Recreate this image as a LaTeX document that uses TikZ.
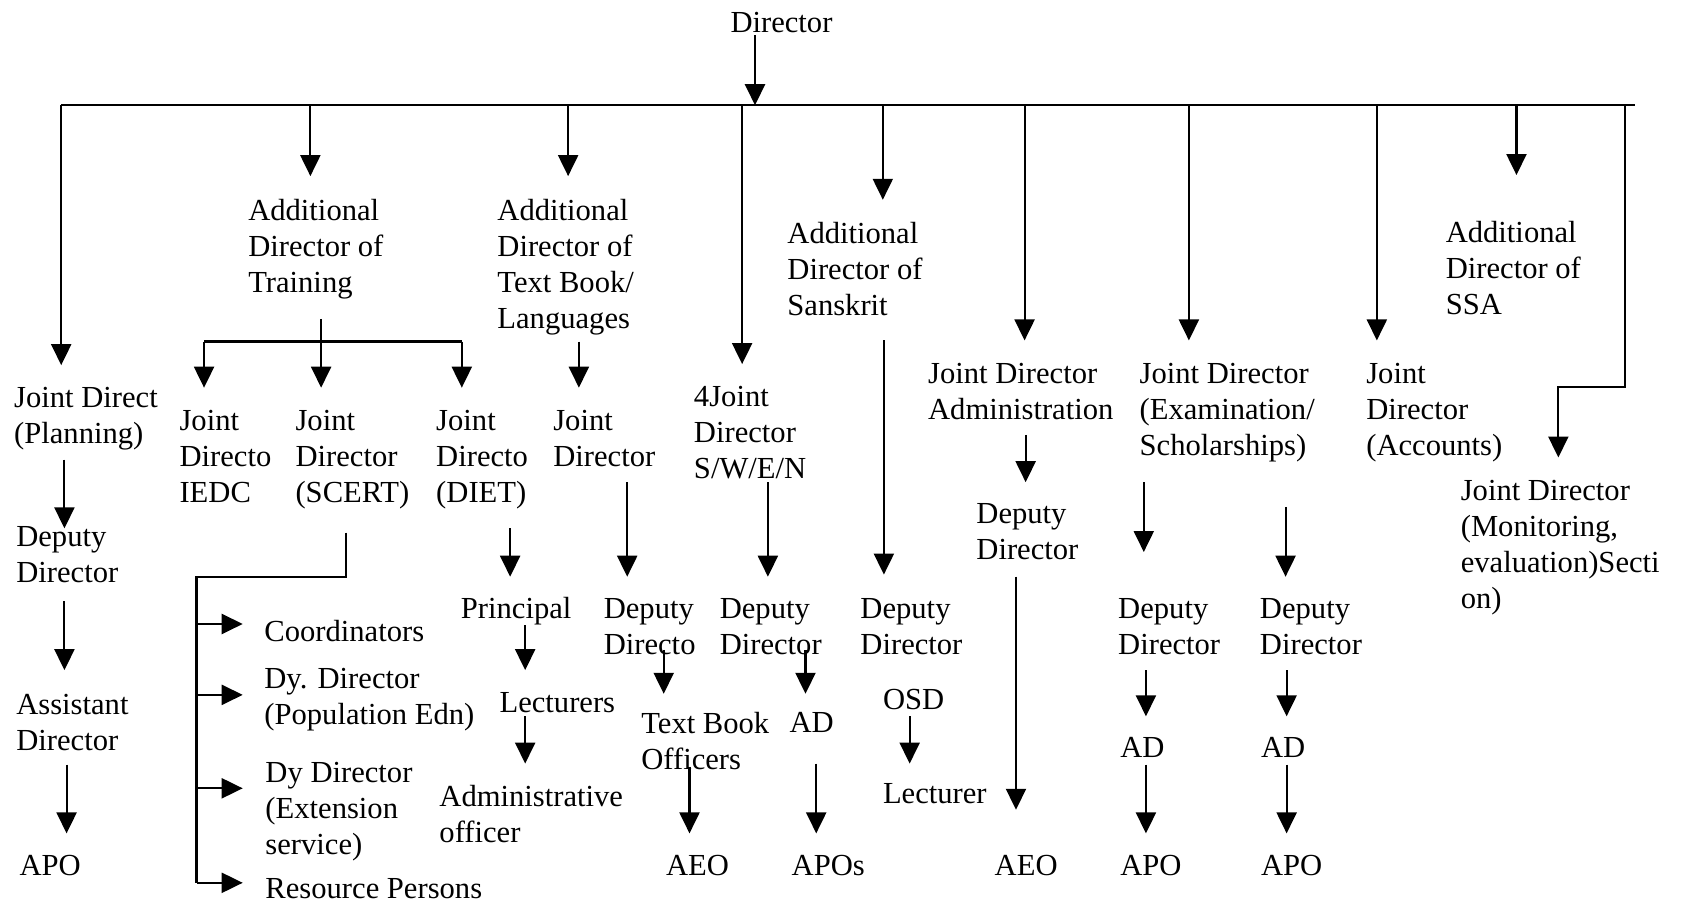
\documentclass[tikz,border=0pt]{standalone}
\usepackage{fontspec}
\setmainfont{Liberation Serif}
\usetikzlibrary{arrows.meta}
\begin{document}
\begin{tikzpicture}[x=1.074pt,y=-1.074pt,
  lbl/.style={anchor=north west,inner sep=0pt,align=left,
              font=\fontsize{30.6}{36}\selectfont},
  conn/.style={line width=2.1pt},
  arr/.style={conn,-{Triangle[width=20pt,length=21pt]}}]
\useasboundingbox (0,0) rectangle (1568,843);

% ---------- labels ----------
\node[lbl] (dir)     at (680,11)  {Director};
\node[lbl] (adTrain) at (231,185) {Additional\\Director of\\Training};
\node[lbl] (adText)  at (463,185) {Additional\\Director of\\Text Book/\\Languages};
\node[lbl] (adSans)  at (733,207) {Additional\\Director of\\Sanskrit};
\node[lbl] (adSSA)   at (1346,206){Additional\\Director of\\SSA};

\node[lbl] (jdPlan)  at (13,360)  {Joint Direct\\(Planning)};
\node[lbl] (jdIEDC)  at (167,382) {Joint\\Directo\\IEDC};
\node[lbl] (jdSCERT) at (275,382) {Joint\\Director\\(SCERT)};
\node[lbl] (jdDIET)  at (406,382) {Joint\\Directo\\(DIET)};
\node[lbl] (jdText)  at (515,382) {Joint\\Director};
\node[lbl] (jdFour)  at (646,359) {4Joint\\Director\\S/W/E/N};
\node[lbl] (jdAdm)   at (864,338) {Joint Director\\Administration};
\node[lbl] (jdExam)  at (1061,338){Joint Director\\(Examination/\\Scholarships)};
\node[lbl] (jdAcc)   at (1272,338){Joint\\Director\\(Accounts)};
\node[lbl] (jdMon)   at (1360,447){Joint Director\\(Monitoring,\\evaluation)Secti\\on)};

\node[lbl] (ddPlan)  at (15,490)  {Deputy\\Director};
\node[lbl] (asPlan)  at (15,646)  {Assistant\\Director};
\node[lbl] (apoPlan) at (18,796)  {APO};

\node[lbl] (coord)   at (246,577) {Coordinators};
\node[lbl] (dyPop)   at (246,622) {Dy. Director\\(Population Edn)};
\node[lbl] (dyExt)   at (247,710) {Dy Director\\(Extension\\service)};
\node[lbl] (resP)    at (247,818) {Resource Persons};

\node[lbl] (princ)   at (429,556) {Principal};
\node[lbl] (lectu)   at (465,645) {Lecturers};
\node[lbl] (admOff)  at (409,731) {Administrative\\officer};

\node[lbl] (ddText)  at (562,557) {Deputy\\Directo};
\node[lbl] (tbo)     at (597,663) {Text Book\\Officers};
\node[lbl] (aeoText) at (620,796) {AEO};

\node[lbl] (ddFour)  at (670,557) {Deputy\\Director};
\node[lbl] (adFour)  at (735,663) {AD};
\node[lbl] (apoFour) at (737,796) {APOs};

\node[lbl] (ddSans)  at (801,557) {Deputy\\Director};
\node[lbl] (osd)     at (822,642) {OSD};
\node[lbl] (lect)    at (822,729) {Lecturer};

\node[lbl] (ddAdm)   at (909,469) {Deputy\\Director};
\node[lbl] (aeoAdm)  at (926,796) {AEO};

\node[lbl] (ddExam)  at (1041,557){Deputy\\Director};
\node[lbl] (adExam)  at (1043,686){AD};
\node[lbl] (apoExam) at (1043,796){APO};

\node[lbl] (ddAcc)   at (1173,557){Deputy\\Director};
\node[lbl] (adAcc)   at (1174,686){AD};
\node[lbl] (apoAcc)  at (1174,796){APO};

% ---------- connector end points ----------
\coordinate (busL)   at (57,98);
\coordinate (busR)   at (1522,98);
\coordinate (dirOut) at (703,33);
\coordinate (tDir)   at (703,98);
\coordinate (tTrain) at (289,98);
\coordinate (tText)  at (529,98);
\coordinate (tFour)  at (691,98);
\coordinate (tSans)  at (822,98);
\coordinate (tAdm)   at (954,98);
\coordinate (tExam)  at (1107,98);
\coordinate (tAcc)   at (1282,98);
\coordinate (tSSA)   at (1412,98);
\coordinate (tMon)   at (1513,98);
\coordinate (monA)   at (1513,360);
\coordinate (monB)   at (1451,360);

\coordinate (trTop)  at (299,297);
\coordinate (trL)    at (190,318);
\coordinate (trR)    at (430,318);

\coordinate (scTop)  at (322,496);
\coordinate (scMid)  at (322,537);
\coordinate (scCor)  at (183,537);
\coordinate (sc1)    at (183,581);
\coordinate (sc2)    at (183,647);
\coordinate (sc3)    at (183,734);
\coordinate (sc4)    at (183,822);

% ---------- director and main bus ----------
\draw[arr] (dirOut) -- (tDir);
\draw[conn] (busL) -- (busR);
\draw[arr] (busL)   -- ++(0,242);
\draw[arr] (tTrain) -- ++(0,66);
\draw[arr] (tText)  -- ++(0,66);
\draw[arr] (tFour)  -- ++(0,241);
\draw[arr] (tSans)  -- ++(0,88);
\draw[arr] (tAdm)   -- ++(0,219);
\draw[arr] (tExam)  -- ++(0,219);
\draw[arr] (tAcc)   -- ++(0,219);
\draw[arr] (tSSA)   -- ++(0,65);
\draw[arr] (tMon) -- (monA) -- (monB) -- ++(0,66);

% ---------- training ----------
\draw[arr] (trTop) -- ++(0,64);
\draw[conn] (trL) -- (trR);
\draw[arr] (trL) -- ++(0,43);
\draw[arr] (trR) -- ++(0,43);
\draw[conn] (scTop) -- (scMid) -- (scCor) -- (sc4);
\foreach \p in {sc1,sc2,sc3,sc4} \draw[arr] (\p) -- ++(43,0);

% ---------- planning column ----------
\draw[arr] (60,428) coordinate (p1) -- (60,492);
\draw[arr] (60,560) coordinate (p2) -- (60,624);
\draw[arr] (62,712) coordinate (p3) -- (62,776);

% ---------- DIET column ----------
\draw[arr] (475,492) coordinate (d1) -- (475,537);
\draw[arr] (489,582) coordinate (d2) -- (489,624);
\draw[arr] (489,667) coordinate (d3) -- (489,711);

% ---------- text book column ----------
\draw[arr] (539,318) coordinate (tb0) -- (539,361);
\draw[arr] (584,449) coordinate (tb1) -- (584,537);
\draw[arr] (618,605) coordinate (tb2) -- (618,646);
\draw[arr] (642,714) coordinate (tb3) -- (642,776);

% ---------- S/W/E/N column ----------
\draw[arr] (715,449) coordinate (f1) -- (715,537);
\draw[arr] (750,605) coordinate (f2) -- (750,646);
\draw[arr] (760,711) coordinate (f3) -- (760,776);

% ---------- sanskrit column ----------
\draw[arr] (823,317) coordinate (s1) -- (823,535);
\draw[arr] (847,667) coordinate (s2) -- (847,711);

% ---------- administration column ----------
\draw[arr] (955,405) coordinate (a1) -- (955,449);
\draw[arr] (946,537) coordinate (a2) -- (946,754);

% ---------- examination column ----------
\draw[arr] (1065,449) coordinate (e1) -- (1065,514);
\draw[arr] (1067,624) coordinate (e2) -- (1067,667);
\draw[arr] (1067,712) coordinate (e3) -- (1067,776);

\draw[arr] (1197,472) coordinate (g1) -- (1197,537);
\draw[arr] (1198,624) coordinate (g2) -- (1198,667);
\draw[arr] (1198,712) coordinate (g3) -- (1198,776);
\end{tikzpicture}
\end{document}
